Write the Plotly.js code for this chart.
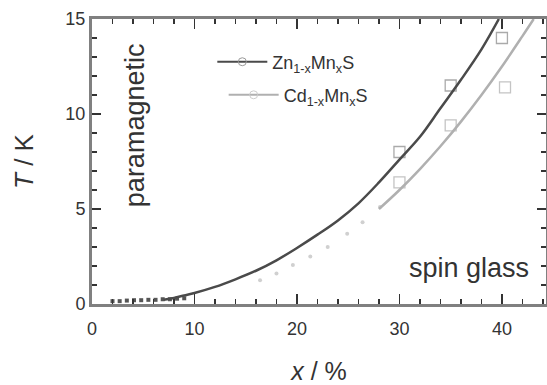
<!DOCTYPE html>
<html>
<head>
<meta charset="utf-8">
<script src="https://cdn.plot.ly/plotly-3.0.1.min.js"></script>
<style>html,body{margin:0;padding:0;background:#fff;}#chart{width:547px;height:385px;}</style>
</head>
<body>
<div id="chart"></div>
<script>
// Zn(1-x)Mn(x)S : fitted curve
const znFitX = [7, 8, 9, 10, 12, 14, 16, 18, 20, 22, 24, 26, 28, 30, 32, 34, 36, 38, 39.7];
const znFitY = [0.22, 0.32, 0.45, 0.58, 0.9, 1.3, 1.75, 2.3, 2.95, 3.65, 4.4, 5.3, 6.4, 7.6, 8.8, 10.3, 11.8, 13.4, 15];
// Zn data points
const znSqX = [30, 35, 40];
const znSqY = [8.0, 11.5, 14.0];
const znDotX = [2, 2.7, 3.4, 4.1, 4.8, 5.5, 6.2, 6.9, 7.6, 8.3, 9];
const znDotY = [0.15, 0.15, 0.18, 0.2, 0.2, 0.22, 0.22, 0.25, 0.25, 0.28, 0.3];
// Cd(1-x)Mn(x)S : fitted curve
const cdFitX = [28, 30, 32, 34, 36, 38, 40, 42, 43.1];
const cdFitY = [5.0, 6.0, 7.1, 8.3, 9.6, 11.0, 12.5, 14.1, 15];
// Cd data points
const cdSqX = [30, 35, 40.3];
const cdSqY = [6.4, 9.4, 11.4];
const cdDotX = [16.4, 18, 19.6, 21.3, 23, 24.9, 26.4, 28.1];
const cdDotY = [1.25, 1.6, 2.05, 2.5, 3.0, 3.7, 4.3, 5.1];

const darkC = '#4a4a4a';
const lightC = '#b0b0b0';
const font = 'Liberation Sans, Arial, sans-serif';

const traces = [
  {x: cdDotX, y: cdDotY, mode: 'markers', showlegend: false,
   marker: {symbol: 'circle', size: 4, color: '#d0d0d0'}},
  {x: znDotX, y: znDotY, mode: 'markers', showlegend: false,
   marker: {symbol: 'square', size: 4, color: '#555'}},
  {x: znSqX, y: znSqY, mode: 'markers', showlegend: false,
   marker: {symbol: 'square-open', size: 11, color: '#aaa', line: {width: 1.3}}},
  {x: cdSqX, y: cdSqY, mode: 'markers', showlegend: false,
   marker: {symbol: 'square-open', size: 11, color: '#c4c4c4', line: {width: 1.3}}},
  {x: znFitX, y: znFitY, mode: 'lines', showlegend: false,
   line: {color: darkC, width: 2.5, shape: 'spline'}},
  {x: cdFitX, y: cdFitY, mode: 'lines', showlegend: false,
   line: {color: lightC, width: 2.5, shape: 'spline'}},
  {x: [null], y: [null], mode: 'lines+markers', name: 'Zn<sub>1-x</sub>Mn<sub>x</sub>S',
   legend: 'legend', line: {color: darkC, width: 2},
   marker: {symbol: 'circle-open', size: 8, color: '#999'}},
  {x: [null], y: [null], mode: 'lines+markers', name: 'Cd<sub>1-x</sub>Mn<sub>x</sub>S',
   legend: 'legend2', line: {color: lightC, width: 2},
   marker: {symbol: 'circle-open', size: 8, color: '#ccc'}}
];

const axisCommon = {
  showgrid: false, zeroline: false, showline: true, linecolor: '#808080', linewidth: 3,
  mirror: 'allticks', ticks: 'inside', tickcolor: '#333', tickwidth: 1.5,
  tickfont: {family: font, size: 18, color: '#333'}
};

const layout = {
  width: 547, height: 385,
  margin: {l: 92, r: 1, t: 19, b: 81, pad: 0},
  paper_bgcolor: '#fff', plot_bgcolor: '#fff',
  font: {family: font, color: '#333'},
  xaxis: Object.assign({}, axisCommon, {
    range: [0, 44.3], tickvals: [0, 10, 20, 30, 40], ticklen: 10, ticklabelstandoff: 6,
    minor: {dtick: 2, tick0: 0, ticks: 'inside', ticklen: 5, tickcolor: '#333', tickwidth: 1.5},
    title: {text: '<i>x</i> / %', font: {family: font, size: 25, color: '#333'}, standoff: 31}
  }),
  yaxis: Object.assign({}, axisCommon, {
    range: [0, 15], tickvals: [0, 5, 10, 15], ticklen: 9,
    minor: {dtick: 1, tick0: 0, ticks: 'inside', ticklen: 5, tickcolor: '#333', tickwidth: 1.5},
    title: {text: '<i>T</i> / K', font: {family: font, size: 26, color: '#333'}, standoff: 25}
  }),
  legend: {x: 0.265, y: 0.849, xanchor: 'left', yanchor: 'middle', bgcolor: 'rgba(0,0,0,0)',
    itemwidth: 50, font: {family: font, size: 18, color: '#333'}},
  legend2: {x: 0.29, y: 0.733, xanchor: 'left', yanchor: 'middle', bgcolor: 'rgba(0,0,0,0)',
    itemwidth: 50, font: {family: font, size: 18, color: '#333'}},
  annotations: [
    {text: 'paramagnetic', xref: 'paper', yref: 'paper', x: 0.095, y: 0.628,
     xanchor: 'center', yanchor: 'middle',
     showarrow: false, textangle: -90, font: {family: font, size: 27, color: '#333'}},
    {text: 'spin glass', xref: 'paper', yref: 'paper', x: 0.968, y: 0.126,
     xanchor: 'right', yanchor: 'middle',
     showarrow: false, font: {family: font, size: 27, color: '#333'}}
  ]
};

Plotly.newPlot('chart', traces, layout, {displayModeBar: false, staticPlot: true});
</script>
</body>
</html>
